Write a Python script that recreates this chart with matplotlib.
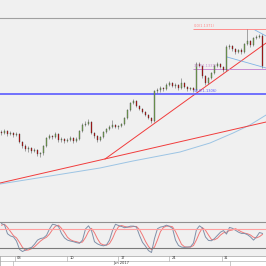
import matplotlib
matplotlib.use("Agg")
import matplotlib.pyplot as plt
from matplotlib.patches import Rectangle

# candle closes (price), open = previous close
first_open = 1.1268
closes = [1.1267, 1.1269, 1.1266, 1.1267, 1.1265, 1.1266, 1.1258, 1.1254, 1.1251, 1.1252,
          1.1249, 1.1250, 1.1246, 1.1247, 1.1254, 1.1262, 1.1264, 1.1263, 1.1266, 1.1260,
          1.1261, 1.1259, 1.1260, 1.1262, 1.1259, 1.1261, 1.1269, 1.1275, 1.1276, 1.1278,
          1.1267, 1.1264, 1.1260, 1.1263, 1.1268, 1.1271, 1.1273, 1.1275, 1.1273, 1.1274,
          1.1276, 1.1282, 1.1290, 1.1297, 1.1299, 1.1294, 1.1291, 1.1288, 1.1285, 1.1282,
          1.1279, 1.1309, 1.1310, 1.1312, 1.1311, 1.1315, 1.1317, 1.1314, 1.1315, 1.1312,
          1.1317, 1.1313, 1.1311, 1.1312, 1.1310, 1.1336, 1.1334, 1.1324, 1.1317, 1.1322,
          1.1327, 1.1334, 1.1336, 1.1333, 1.1330, 1.1353, 1.1354, 1.1351, 1.1348, 1.1350,
          1.1348, 1.1356, 1.1359, 1.1355, 1.1362, 1.1363, 1.1364, 1.1334]
highs = [1.1270, 1.1271, 1.1270, 1.1269, 1.1268, 1.1268, 1.1267, 1.1259, 1.1256, 1.1254,
         1.1253, 1.1252, 1.1251, 1.1248, 1.1255, 1.1263, 1.1266, 1.1265, 1.1268, 1.1267,
         1.1263, 1.1262, 1.1262, 1.1264, 1.1263, 1.1263, 1.1270, 1.1277, 1.1279, 1.1281,
         1.1279, 1.1268, 1.1265, 1.1264, 1.1269, 1.1272, 1.1275, 1.1280, 1.1276, 1.1275,
         1.1277, 1.1283, 1.1291, 1.1298, 1.1301, 1.1300, 1.1295, 1.1292, 1.1289, 1.1286,
         1.1283, 1.1310, 1.1312, 1.1314, 1.1313, 1.1317, 1.1319, 1.1318, 1.1317, 1.1316,
         1.1322, 1.1318, 1.1314, 1.1313, 1.1313, 1.1338, 1.1338, 1.1335, 1.1325, 1.1323,
         1.1328, 1.1336, 1.1338, 1.1337, 1.1334, 1.1355, 1.1356, 1.1355, 1.1352, 1.1351,
         1.1352, 1.1357, 1.1371, 1.1360, 1.1363, 1.1365, 1.1366, 1.1366]
lows = [1.1265, 1.1266, 1.1264, 1.1265, 1.1263, 1.1264, 1.1257, 1.1252, 1.1249, 1.1248,
        1.1247, 1.1248, 1.1244, 1.1243, 1.1245, 1.1253, 1.1261, 1.1261, 1.1262, 1.1258,
        1.1258, 1.1257, 1.1258, 1.1259, 1.1257, 1.1258, 1.1260, 1.1268, 1.1274, 1.1275,
        1.1266, 1.1262, 1.1258, 1.1259, 1.1262, 1.1267, 1.1270, 1.1272, 1.1272, 1.1271,
        1.1273, 1.1275, 1.1281, 1.1289, 1.1296, 1.1293, 1.1290, 1.1287, 1.1284, 1.1281,
        1.1277, 1.1278, 1.1307, 1.1308, 1.1309, 1.1310, 1.1314, 1.1313, 1.1312, 1.1310,
        1.1311, 1.1312, 1.1309, 1.1310, 1.1308, 1.1309, 1.1333, 1.1322, 1.1315, 1.1316,
        1.1321, 1.1326, 1.1333, 1.1332, 1.1328, 1.1329, 1.1351, 1.1349, 1.1346, 1.1347,
        1.1346, 1.1347, 1.1355, 1.1353, 1.1354, 1.1361, 1.1362, 1.1332]

# moving average (sampled at bar index)
ma_idx = [-0.5, 16.2, 32.8, 43.8, 59.5, 69.5, 77.2, 82.8, 88.2]
ma_val = [1.1216, 1.1224, 1.1232, 1.1239, 1.1248, 1.1257, 1.1267, 1.1275, 1.1285]

# trend lines (bar index, price)
trend_up = ([34.5, 88.2], [1.1241, 1.1357])
trend_low = ([-0.5, 88.2], [1.1217, 1.1278])
chan_top = ([84.5, 88.2], [1.1370, 1.1364])
chan_bot = ([75.2, 88.2], [1.1343, 1.1332])

# fibonacci levels
fib_start = 63.8
fib_levels = [1.1371, 1.1331]
fib_labels = ["0.0(1.1371)", "38.2(1.1331)"]
fib_colors = ["#ff8c8c", "#c88cd2"]
support = 1.1306
support_label = "50.0(1.1306)"

# stochastic %K / %D
stoch_k = [97, 93, 65, 58, 55, 42, 16, 9, 14, 19, 22, 32, 45, 50, 52, 60, 80, 95, 93, 88,
           66, 52, 45, 42, 40, 37, 35, 45, 80, 90, 75, 40, 33, 29, 27, 30, 45, 75, 95, 91,
           88, 84, 86, 89, 89, 86, 60, 38, 26, 12, 6, 50, 81, 86, 88, 92, 88, 82, 45, 28,
           23, 22, 23, 24, 36, 78, 90, 83, 55, 44, 43, 50, 60, 70, 75, 64, 85, 82, 76, 70,
           66, 66, 62, 55, 45, 55, 69, 66]
stoch_d = [92, 95, 85, 72, 59, 52, 38, 22, 13, 14, 18, 24, 33, 42, 49, 54, 64, 78, 89, 92,
           82, 69, 54, 46, 42, 40, 37, 39, 53, 72, 82, 68, 49, 34, 30, 29, 34, 50, 72, 87,
           91, 88, 86, 86, 88, 88, 78, 61, 41, 25, 15, 23, 46, 72, 85, 89, 89, 87, 72, 52,
           32, 24, 23, 23, 28, 46, 68, 84, 76, 61, 47, 46, 51, 61, 68, 70, 75, 77, 81, 76,
           71, 67, 65, 61, 54, 52, 56, 63]

week_idx = [4.5, 22.0, 39.0, 56.0, 73.5]
week_labels = ["03", "10", "17", "24", "31"]
month_idx = [3.8, 76.2]
month_label = "Jun 2017"

bg = "#f0f0f0"
fig = plt.figure(figsize=(2.66, 2.66), dpi=100, facecolor=bg)
ax = fig.add_axes([0, 0.1729, 1, 0.7594], facecolor=bg)
ax2 = fig.add_axes([0, 0.0376, 1, 0.1278], facecolor=bg)
ax3 = fig.add_axes([0, 0, 1, 0.0376], facecolor="white")

xmin, xmax = -0.5, 88.17
opens = [first_open] + closes[:-1]

for i in range(len(closes)):
    o, c = opens[i], closes[i]
    up = c >= o
    ax.vlines(i, lows[i], highs[i], color="#666666", lw=0.4, zorder=2)
    ax.add_patch(Rectangle((i - 0.32, min(o, c)), 0.64, max(abs(c - o), 0.00004),
                           facecolor="#78b450" if up else "#c80000",
                           edgecolor="#444444", lw=0.25, zorder=3))

ax.plot(ma_idx, ma_val, color="#9cc4e4", lw=0.7, zorder=1)
ax.plot(*trend_up, color="#f03c3c", lw=0.7, zorder=1)
ax.plot(*trend_low, color="#f03c3c", lw=0.7, zorder=1)
ax.plot(*chan_top, color="#80b4e6", lw=0.6, zorder=1)
ax.plot(*chan_bot, color="#80b4e6", lw=0.6, zorder=1)

for lvl, lab, col in zip(fib_levels, fib_labels, fib_colors):
    ax.hlines(lvl, fib_start, xmax, color=col, lw=0.7, zorder=1)
    ax.text(fib_start + 0.3, lvl + 0.0001, lab, color=col, fontsize=2.6, va="bottom")
ax.axhline(support, color="#5a5aff", lw=1.2, zorder=1)
ax.text(fib_start + 0.3, support + 0.0001, support_label, color="#5a5aff", fontsize=2.6, va="bottom")

ax.set_xlim(xmin, xmax)
ax.set_ylim(1.1180, 1.1382)
ax.set_xticks([])
ax.set_yticks([])
for s in ["left", "right", "bottom"]:
    ax.spines[s].set_visible(False)
ax.spines["top"].set_color("#a0a0a0")
ax.spines["top"].set_linewidth(0.8)

x = list(range(len(stoch_k)))
ax2.plot(x, stoch_d, color="#f07878", lw=0.7)
ax2.plot(x, stoch_k, color="#8090a8", lw=0.7)
ax2.axhline(80, color="#ffa0a0", lw=0.8)
ax2.axhline(20, color="#7a7a7a", lw=0.8)
ax2.set_xlim(xmin, xmax)
ax2.set_ylim(-5, 102)
ax2.set_xticks([])
ax2.set_yticks([])
for s in ["left", "right", "bottom"]:
    ax2.spines[s].set_visible(False)
ax2.spines["top"].set_color("#909090")
ax2.spines["top"].set_linewidth(0.8)

ax3.set_xlim(xmin, xmax)
ax3.set_ylim(0, 1)
ax3.axhline(0.5, color="#a0a0a0", lw=0.4)
for xi, lab in zip(week_idx, week_labels):
    ax3.vlines(xi, 0.5, 1, color="#a0a0a0", lw=0.4)
    ax3.text(xi + 0.6, 0.75, lab, fontsize=2.6, va="center", color="#333333")
for xi in month_idx:
    ax3.vlines(xi, 0, 0.5, color="#a0a0a0", lw=0.4)
ax3.text(sum(month_idx) / 2, 0.25, month_label, fontsize=2.6, va="center", ha="center", color="#333333")
ax3.set_xticks([])
ax3.set_yticks([])
for s in ax3.spines.values():
    s.set_color("#a0a0a0")
    s.set_linewidth(0.5)

fig.savefig("out.png", dpi=100, facecolor=bg)
